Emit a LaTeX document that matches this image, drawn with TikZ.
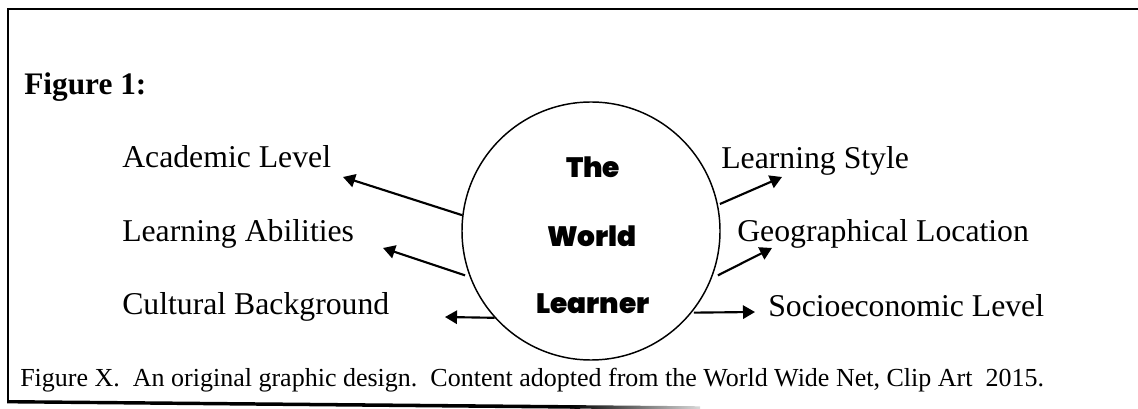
\documentclass[tikz,border=0pt]{standalone}
\usepackage{fontspec}
\setmainfont{Liberation Serif}
\IfFontExistsTF{Poppins Black}
  {\newfontfamily\roundfont{Poppins Black}}
  {\newfontfamily\roundfont{Poppins Bold}[FakeBold=1.2]}
\usetikzlibrary{arrows.meta}
\begin{document}
\begin{tikzpicture}[x=0.75pt,y=-0.75pt,
  label/.style={anchor=base west,inner sep=0pt,font=\fontsize{23.8pt}{28pt}\selectfont},
  core/.style={anchor=base,inner sep=0pt,font=\roundfont\fontsize{21pt}{25pt}\selectfont},
  arr/.style={line width=1.6pt,-{Triangle[length=9pt,width=10pt]}},
  frame/.style={line width=1.6pt}]
\useasboundingbox (0,0) rectangle (1138,409);

% page frame: top and left rules, bottom rule that fades out
\draw[frame] (8,401) -- (8,9) -- (1138,9);
\fill[black] (7.2,400) -- (580,405.2) -- (580,408.8) -- (7.2,403.4) -- cycle;
\shade[left color=black,right color=black!15] (570,405.1) -- (700,406.3) -- (700,409) -- (570,408.7) -- cycle;

% title and caption
\node[label,font=\bfseries\fontsize{23.5pt}{28pt}\selectfont] (title) at (24,95) {Figure 1:};
\node[label,font=\fontsize{19.5pt}{23pt}\selectfont] (caption) at (20,386)
  {Figure X.\ \ An original graphic design.\ \ Content adopted from the World Wide Net, Clip Art\ \ 2015.};

% central circle
\node[draw,circle,line width=1.1pt,minimum size=193.5pt,inner sep=0pt] (c) at (591,231) {};
\node[core] (t1) at (593,178) {The};
\node[core] (t2) at (592,247) {World};
\node[core] (t3) at (593,314) {Learner};

% surrounding factors
\node[label] (acad) at (122,168) {Academic Level};
\node[label] (abil) at (122,242) {Learning Abilities};
\node[label] (cult) at (122,315) {Cultural Background};
\node[label] (style) at (721,169) {Learning Style};
\node[label] (geo) at (737,242) {Geographical Location};
\node[label] (socio) at (768,317) {Socioeconomic Level};

% arrow tips
\coordinate (acadtip) at (343,177);
\coordinate (abiltip) at (383,248);
\coordinate (culttip) at (445,317);
\coordinate (styletip) at (782,177);
\coordinate (geotip) at (772,248);
\coordinate (sociotip) at (755,312);

\draw[arr] (c.173.7) -- (acadtip);
\draw[arr] ([shift={(-3pt,0)}]c.200.5) -- (abiltip);
\draw[arr] (c.222.5) -- (culttip);
\draw[arr] ([shift={(1.5pt,0)}]c.12.3) -- (styletip);
\draw[arr] ([shift={(3.75pt,0)}]c.-20.6) -- (geotip);
\draw[arr] ([shift={(1.5pt,0)}]c.-39.1) -- (sociotip);
\end{tikzpicture}
\end{document}
